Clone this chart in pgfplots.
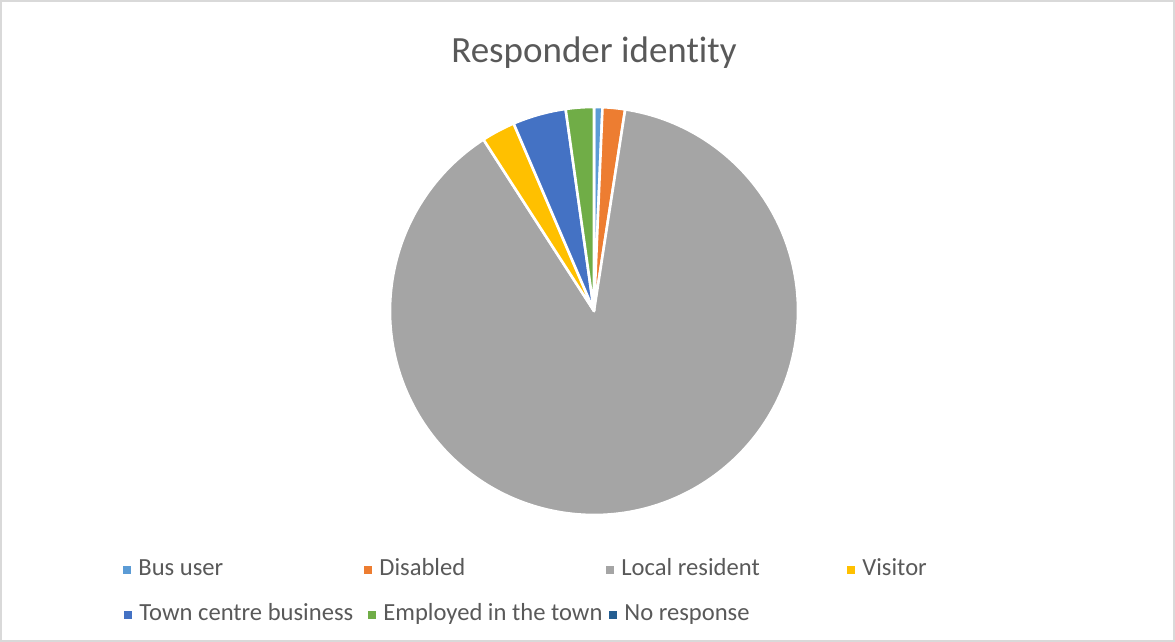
\documentclass[border=0pt]{standalone}
\usepackage{pgfplots}
\usepackage{pgfplotstable}
\pgfplotsset{compat=1.18}
\usepackage{fontspec}
\setmainfont{Carlito}[Ligatures=NoCommon]
\definecolor{txt}{HTML}{595959}
\definecolor{frame}{HTML}{D9D9D9}
\definecolor{slice0}{HTML}{5B9BD5}
\definecolor{slice1}{HTML}{ED7D31}
\definecolor{slice2}{HTML}{A5A5A5}
\definecolor{slice3}{HTML}{FFC000}
\definecolor{slice4}{HTML}{4472C4}
\definecolor{slice5}{HTML}{70AD47}
\definecolor{slice6}{HTML}{255E91}
\pgfplotstableread[col sep=comma]{
label,value
Bus user,3
Disabled,8
Local resident,398
Visitor,12
Town centre business,19
Employed in the town,10
No response,0
}\datatable
\begin{document}
\begin{tikzpicture}
\useasboundingbox (0,0) rectangle (587.5pt,321pt);
\draw[frame, line width=0.8pt] (0.5pt,0.5pt) rectangle (587pt,320.5pt);
% cumulative angles
\gdef\total{0}
\foreach \i in {0,...,6}{%
  \pgfplotstablegetelem{\i}{value}\of\datatable
  \pgfmathsetmacro\tmpt{\total+\pgfplotsretval}%
  \global\let\total\tmpt
}
\gdef\cum{0}
\foreach \i in {0,...,6}{%
  \pgfplotstablegetelem{\i}{value}\of\datatable
  \pgfmathsetmacro\tmpa{90-360*(\cum/\total)}%
  \pgfmathsetmacro\tmpc{\cum+\pgfplotsretval}%
  \pgfmathsetmacro\tmpb{90-360*(\tmpc/\total)}%
  \expandafter\xdef\csname sA\i\endcsname{\tmpa}%
  \expandafter\xdef\csname sE\i\endcsname{\tmpb}%
  \global\let\cum\tmpc
}
\begin{axis}[hide axis, x=102pt, y=102pt, xmin=-1, xmax=1, ymin=-1, ymax=1,
  anchor=center, at={(297pt,165.5pt)}, clip=false]
\pgfplotsinvokeforeach{0,...,5}{
  \fill[fill=slice#1, draw=white, line width=1.3pt, line join=round]
    (axis cs:0,0) -- ++(\csname sA#1\endcsname:102pt)
    arc[start angle=\csname sA#1\endcsname, end angle=\csname sE#1\endcsname, radius=102pt] -- cycle;
}
\end{axis}
\node[txt, font=\fontsize{18.5pt}{22pt}\selectfont] at (297pt,294.5pt) {Responder identity};
% legend
\foreach \x/\y/\c/\l in {63.5/36/slice0/Bus user, 184/36/slice1/Disabled, 305/36/slice2/Local resident, 425.5/36/slice3/Visitor,
  64/13.5/slice4/Town centre business, 186/13.5/slice5/Employed in the town, 306.5/13.5/slice6/No response}{
  \fill[\c] (\x pt-2.1pt,\y pt-2.1pt) rectangle (\x pt+2.1pt,\y pt+2.1pt);
  \node[txt, anchor=west, inner sep=0pt, font=\fontsize{12.3pt}{14pt}\selectfont] at (\x pt+5.5pt,\y pt) {\strut\l};
}
\end{tikzpicture}
\end{document}
